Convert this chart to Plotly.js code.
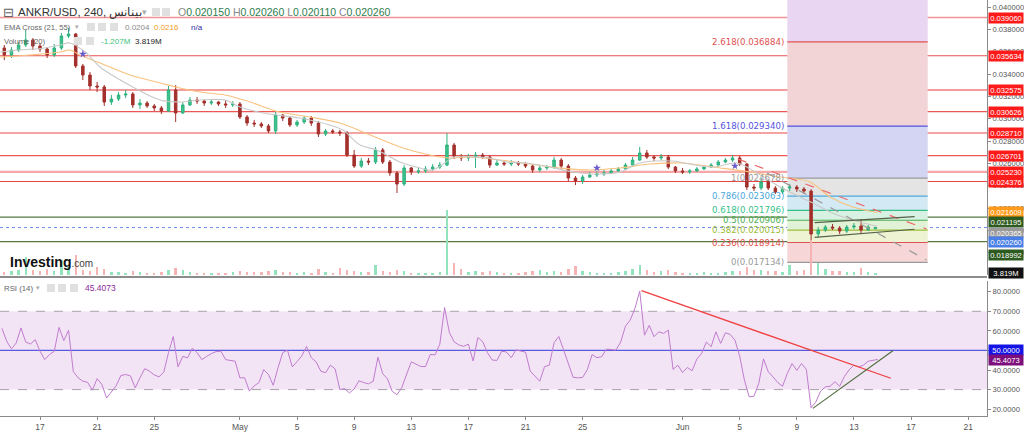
<!DOCTYPE html>
<html><head><meta charset="utf-8">
<script src="https://cdn.plot.ly/plotly-3.0.1.min.js"></script>
<style>html,body{margin:0;padding:0;background:#fff}#chart{width:1024px;height:433px}</style>
</head><body><div id="chart"></div><script>
// ---------- DATA (12h candles) ----------
const candleStartUTC = [2023, 3, 14, 12];
const candleStepHours = 12;
const open = [0.03633,0.03570,0.03615,0.03660,0.03705,0.03651,0.03624,0.03570,0.03633,0.03740,
 0.03758,0.03472,0.03391,0.03293,0.03284,0.03149,0.03176,0.03212,0.03221,0.03123,
 0.03140,0.03114,0.03096,0.03069,0.03257,0.03051,0.03123,0.03167,0.03158,0.03140,
 0.03149,0.03132,0.03123,0.03132,0.03015,0.02961,0.02953,0.02935,0.02890,0.03033,
 0.03006,0.02944,0.02970,0.03006,0.02961,0.02863,0.02890,0.02881,0.02872,0.02675,
 0.02576,0.02621,0.02612,0.02720,0.02612,0.02514,0.02415,0.02559,0.02523,0.02532,
 0.02550,0.02567,0.02585,0.02764,0.02666,0.02648,0.02657,0.02675,0.02657,0.02585,
 0.02603,0.02594,0.02603,0.02594,0.02576,0.02541,0.02559,0.02567,0.02630,0.02576,
 0.02469,0.02442,0.02478,0.02496,0.02505,0.02514,0.02532,0.02550,0.02585,0.02630,
 0.02693,0.02657,0.02648,0.02657,0.02567,0.02532,0.02523,0.02532,0.02550,0.02567,
 0.02585,0.02612,0.02630,0.02648,0.02594,0.02388,0.02379,0.02433,0.02379,0.02344,
 0.02379,0.02388,0.02370,0.02352,0.01968,0.02003,0.02030,0.02021,0.01994,0.02030,
 0.02039,0.02003,0.02015];
const high = [0.03660,0.03642,0.03687,0.03794,0.03722,0.03678,0.03642,0.03669,0.03767,0.03812,
 0.03767,0.03490,0.03418,0.03329,0.03302,0.03212,0.03239,0.03257,0.03239,0.03176,
 0.03158,0.03132,0.03114,0.03293,0.03302,0.03149,0.03194,0.03194,0.03176,0.03167,
 0.03158,0.03167,0.03158,0.03149,0.03033,0.02988,0.02970,0.02953,0.03060,0.03042,
 0.03024,0.02988,0.03024,0.03024,0.02979,0.02908,0.02908,0.02899,0.02890,0.02720,
 0.02648,0.02648,0.02747,0.02738,0.02630,0.02532,0.02585,0.02567,0.02559,0.02576,
 0.02594,0.02612,0.02872,0.02782,0.02684,0.02684,0.02702,0.02693,0.02675,0.02630,
 0.02621,0.02630,0.02621,0.02612,0.02585,0.02585,0.02585,0.02657,0.02648,0.02594,
 0.02487,0.02496,0.02523,0.02532,0.02541,0.02550,0.02567,0.02603,0.02657,0.02747,
 0.02720,0.02675,0.02684,0.02675,0.02576,0.02559,0.02550,0.02567,0.02585,0.02603,
 0.02630,0.02648,0.02675,0.02666,0.02603,0.02415,0.02469,0.02451,0.02397,0.02397,
 0.02415,0.02406,0.02388,0.02370,0.02030,0.02048,0.02057,0.02039,0.02048,0.02066,
 0.02102,0.02048,0.02026];
const low = [0.03525,0.03543,0.03597,0.03642,0.03615,0.03597,0.03543,0.03552,0.03615,0.03722,
 0.03454,0.03346,0.03257,0.03239,0.03114,0.03123,0.03158,0.03185,0.03096,0.03087,
 0.03096,0.03069,0.03042,0.03060,0.02970,0.03042,0.03114,0.03132,0.03114,0.03123,
 0.03114,0.03096,0.03105,0.02997,0.02935,0.02926,0.02917,0.02872,0.02863,0.02979,
 0.02926,0.02926,0.02953,0.02935,0.02836,0.02845,0.02863,0.02845,0.02657,0.02559,
 0.02559,0.02585,0.02594,0.02594,0.02487,0.02335,0.02397,0.02496,0.02505,0.02514,
 0.02532,0.02550,0.02576,0.02639,0.02621,0.02621,0.02559,0.02639,0.02559,0.02576,
 0.02576,0.02576,0.02576,0.02559,0.02514,0.02523,0.02541,0.02550,0.02550,0.02442,
 0.02406,0.02415,0.02469,0.02478,0.02487,0.02505,0.02523,0.02541,0.02576,0.02621,
 0.02639,0.02621,0.02630,0.02550,0.02514,0.02505,0.02505,0.02523,0.02541,0.02559,
 0.02576,0.02603,0.02612,0.02576,0.02361,0.02352,0.02361,0.02361,0.02326,0.02326,
 0.02352,0.02344,0.02326,0.01714,0.01941,0.01985,0.02003,0.01968,0.01976,0.02012,
 0.01976,0.01994,0.02011];
const close = [0.03570,0.03615,0.03660,0.03705,0.03651,0.03624,0.03570,0.03633,0.03740,0.03758,
 0.03472,0.03391,0.03293,0.03284,0.03149,0.03176,0.03212,0.03221,0.03123,0.03140,
 0.03114,0.03096,0.03069,0.03257,0.03051,0.03123,0.03167,0.03158,0.03140,0.03149,
 0.03132,0.03123,0.03132,0.03015,0.02961,0.02953,0.02935,0.02890,0.03033,0.03006,
 0.02944,0.02970,0.03006,0.02961,0.02863,0.02890,0.02881,0.02872,0.02675,0.02576,
 0.02621,0.02612,0.02720,0.02612,0.02514,0.02415,0.02559,0.02523,0.02532,0.02550,
 0.02567,0.02585,0.02764,0.02666,0.02648,0.02657,0.02675,0.02657,0.02585,0.02603,
 0.02594,0.02603,0.02594,0.02576,0.02541,0.02559,0.02567,0.02630,0.02576,0.02469,
 0.02442,0.02478,0.02496,0.02505,0.02514,0.02532,0.02550,0.02585,0.02630,0.02693,
 0.02657,0.02648,0.02657,0.02567,0.02532,0.02523,0.02532,0.02550,0.02567,0.02585,
 0.02612,0.02630,0.02648,0.02594,0.02388,0.02379,0.02433,0.02379,0.02344,0.02379,
 0.02388,0.02370,0.02352,0.01968,0.02003,0.02030,0.02021,0.01994,0.02030,0.02039,
 0.02003,0.02030,0.02026];
// volume in millions
const volume = [6,8,10,36,10,8,12,8,30,16, 40,10,8,16,12,6,6,4,8,6, 4,4,6,10,14,10,6,4,4,4,
 4,4,6,8,6,6,6,8,10,6, 6,4,6,4,12,6,4,14,10,8, 6,6,20,8,6,10,8,4,4,4,
 4,6,130,24,12,6,8,6,8,6, 4,4,4,6,8,10,6,8,6,12, 18,8,6,4,4,4,6,8,12,20,
 10,6,8,10,6,4,4,4,6,4, 4,6,8,8,16,10,10,8,8,6, 20,8,10,70,24,12,8,8,6,6, 14,6,3.819];
// EMA lines
const ema55Time = ['2023-04-14 05:00','2023-04-16 07:00','2023-04-18 10:00','2023-04-19 02:00','2023-04-19 19:00','2023-04-21 05:00','2023-04-23 07:00','2023-04-25 10:00','2023-04-26 19:00','2023-04-28 05:00','2023-04-29 23:00','2023-05-01 17:00','2023-05-03 19:00','2023-05-05 22:00','2023-05-08 00:00','2023-05-10 03:00','2023-05-12 05:00','2023-05-14 07:00','2023-05-15 17:00','2023-05-17 03:00','2023-05-19 05:00','2023-05-21 07:00','2023-05-23 10:00','2023-05-25 12:00','2023-05-27 15:00','2023-05-29 17:00','2023-05-31 20:00','2023-06-03 15:00','2023-06-05 17:00','2023-06-07 20:00','2023-06-09 22:00','2023-06-11 08:00','2023-06-12 22:00','2023-06-14 15:00'];
const ema55 = [0.03552,0.03570,0.03597,0.03615,0.03570,0.03499,0.03391,0.03320,0.03275,0.03239,0.03212,0.03149,0.03060,0.03015,0.02961,0.02854,0.02747,0.02675,0.02648,0.02657,0.02630,0.02594,0.02559,0.02541,0.02559,0.02594,0.02603,0.02559,0.02523,0.02478,0.02433,0.02299,0.02209,0.021609];
const ema21Time = ['2023-04-14 05:00','2023-04-15 14:00','2023-04-17 08:00','2023-04-18 10:00','2023-04-19 02:00','2023-04-20 04:00','2023-04-21 05:00','2023-04-23 12:00','2023-04-25 10:00','2023-04-26 19:00','2023-04-28 05:00','2023-04-29 23:00','2023-05-01 00:00','2023-05-02 15:00','2023-05-05 05:00','2023-05-07 07:00','2023-05-08 05:00','2023-05-09 10:00','2023-05-10 14:00','2023-05-12 05:00','2023-05-13 15:00','2023-05-14 12:00','2023-05-16 01:00','2023-05-17 08:00','2023-05-18 12:00','2023-05-19 17:00','2023-05-21 02:00','2023-05-22 17:00','2023-05-24 08:00','2023-05-26 00:00','2023-05-27 15:00','2023-05-29 00:00','2023-05-31 08:00','2023-06-01 12:00','2023-06-03 03:00','2023-06-04 19:00','2023-06-06 05:00','2023-06-07 20:00','2023-06-10 03:00','2023-06-11 08:00','2023-06-12 22:00','2023-06-14 15:00'];
const ema21 = [0.03597,0.03615,0.03633,0.03660,0.03678,0.03597,0.03463,0.03284,0.03167,0.03149,0.03167,0.03167,0.03105,0.03051,0.03006,0.02944,0.02899,0.02764,0.02720,0.02612,0.02559,0.02541,0.02657,0.02657,0.02648,0.02612,0.02603,0.02567,0.02523,0.02505,0.02523,0.02603,0.02621,0.02594,0.02567,0.02603,0.02514,0.02388,0.02245,0.02165,0.02093,0.020365];
const crossTime = ['2023-04-20 00:00','2023-05-26 00:00','2023-06-04 16:00'];
const crossPrice = [0.03579,0.02559,0.02577];
// RSI (14), 8-hourly samples
const rsiStartUTC = [2023, 3, 14, 8];
const rsiStepHours = 8;
const rsi = [61.3,54.7,50.8,53.8,61.5,54.3,53.3,55.5,49.6,45.3,
 47.9,49.6,61.8,55.0,60.3,39.2,36.0,34.3,33.7,29.7,
 35.6,32.6,25.7,28.8,32.0,37.2,37.7,37.0,30.9,36.0,
 40.7,39.4,37.5,36.5,38.9,48.9,57.1,41.6,47.0,46.2,
 51.1,48.9,45.3,46.9,48.4,49.4,49.6,45.3,44.8,44.5,
 36.0,36.0,29.2,31.9,33.6,40.2,37.7,32.2,41.1,48.9,
 50.1,41.6,44.3,47.2,52.0,46.3,44.2,39.4,38.6,42.5,
 40.6,30.0,30.5,28.3,30.3,34.5,33.6,32.9,34.3,46.5,
 38.1,35.5,29.1,27.4,31.0,37.7,44.2,43.0,41.8,41.8,
 48.0,47.7,53.2,71.9,59.2,54.4,52.8,52.1,53.2,44.6,
 56.6,54.5,48.9,45.1,44.9,49.6,49.2,46.3,50.3,49.7,
 49.1,39.4,36.9,34.3,41.7,42.5,53.9,57.1,50.3,43.2,
 36.3,36.0,36.2,40.3,47.9,46.3,46.8,50.7,50.5,50.2,
 54.3,62.4,65.5,71.5,80.3,57.8,62.8,57.0,59.5,58.7,
 60.4,40.3,42.5,38.7,41.3,39.6,45.6,48.5,54.3,51.9,
 59.5,53.6,59.0,58.2,55.3,47.1,34.8,26.3,26.6,33.1,
 45.7,39.1,36.5,33.6,31.7,38.2,43.3,39.8,43.3,40.3,
 20.7,23.7,29.2,31.4,31.7,34.0,31.7,36.7,40.1,42.5,
 41.6,42.5,44.5,45.0,45.4073];
// levels
const redLevels = [0.039060,0.035634,0.032575,0.030626,0.028710,0.026701,0.025230,0.024376];
const redLevelColors = ['#f39494','#ee5050','#f27a7a','#ee5555','#f6a3a3','#ee5555','#f6a8a8','#e84444'];
const redLevelWidths = [1.5,1.2,1.5,1.2,2,1.2,2.2,1.2];
const greenLevels = [0.021195,0.018992];
const lastPrice = 0.020260;
const fibRatios = [0,0.236,0.382,0.5,0.618,0.786,1,1.618,2.618];
const fibPrices = [0.017134,0.018914,0.020015,0.020906,0.021796,0.023063,0.024678,0.029340,0.036884];
const fibLineColors = ['#9a9a9a','#e05050','#9cbd35','#4caf50','#35bf8a','#4aa8dc','#9a9a9a','#5252dd','#e05050'];
const fibBandColors = ['#f6d6d6','#eef4d3','#e2f2d6','#d7f1e2','#d3e9f3','#e4e4e4','#d4d4f3','#f3d4d6','#e8d6f3'];
const fibStart = '2023-06-08 08:00', fibEnd = '2023-06-18 04:00';
const redTrendT = ['2023-06-04 21:00','2023-06-18 02:00'], redTrendP = [0.02639,0.02013];
const grayTrendT = ['2023-06-06 22:00','2023-06-18 02:00'], grayTrendP = [0.02514,0.01735];
const chanT = ['2023-06-10 06:00','2023-06-17 06:00'];
const chanUpperP = [0.02069,0.02123], chanLowerP = [0.01938,0.02010];
const rsiRedT = ['2023-05-29 03:00','2023-06-15 14:00'], rsiRedV = [80.5,35.8];
const rsiGreenT = ['2023-06-10 03:00','2023-06-15 18:00'], rsiGreenV = [20.4,50.0];
const xTickVals = ['2023-04-17','2023-04-21','2023-04-25','2023-05-01','2023-05-05','2023-05-09','2023-05-13','2023-05-17','2023-05-21','2023-05-25','2023-06-01','2023-06-05','2023-06-09','2023-06-13','2023-06-17','2023-06-21'];
const xTickText = ['17','21','25','May','5','9','13','17','21','25','Jun','5','9','13','17','21'];
const rightLabels = [
  {v:0.039060,bg:'#ff1a1a',s:0},{v:0.035634,bg:'#ff1a1a',s:0},{v:0.032575,bg:'#ff1a1a',s:0},
  {v:0.030626,bg:'#ff1a1a',s:0},{v:0.028710,bg:'#ff1a1a',s:0},{v:0.026701,bg:'#ff1a1a',s:0},
  {v:0.025230,bg:'#ff1a1a',s:0},{v:0.024376,bg:'#ff1a1a',s:0},{v:0.021609,bg:'#ff9a1a',s:0},
  {v:0.021195,bg:'#2d5a1e',s:-5},{v:0.020365,bg:'#9a9a9a',s:-7},{v:0.020260,bg:'#4a7fe6',s:-15},
  {v:0.018992,bg:'#2d5a1e',s:-13}];

// ---------- BUILD ----------
const HOUR = 3600e3;
const t0 = Date.UTC(...candleStartUTC);
const times = open.map((_, i) => t0 + i * candleStepHours * HOUR);
const r0 = Date.UTC(...rsiStartUTC);
const rsiTimes = rsi.map((_, j) => r0 + j * rsiStepHours * HOUR);
const volColors = close.map((c, i) => c >= open[i] ? '#92e2bd' : '#f6b3b3');

const SANS = '"Liberation Sans", Arial, sans-serif';
const PW = 987, PH = 416; // plot area in px
const mainDomain = [1 - 275 / PH, 1];
const rsiDomain = [0, (PH - 281) / PH];
const mainRange = [0.016006, 0.040627];
const rsiRange = [16.52, 85.46];
const xRange = ['2023-04-14 04:46', '2023-06-22 07:40'];

const traces = [
  {type:'bar', x:times, y:volume, yaxis:'y3', xaxis:'x', marker:{color:volColors, line:{width:0}},
   width: 4 * HOUR, hoverinfo:'skip', showlegend:false},
  {type:'scatter', mode:'lines', x:ema55Time, y:ema55, line:{color:'#f8c27f', width:1.1, shape:'spline'}, hoverinfo:'skip', showlegend:false},
  {type:'scatter', mode:'lines', x:ema21Time, y:ema21, line:{color:'#c9c9c9', width:1.1, shape:'spline'}, hoverinfo:'skip', showlegend:false},
  {type:'candlestick', x:times, open:open, high:high, low:low, close:close, xaxis:'x', yaxis:'y',
   increasing:{line:{color:'#2fb07e', width:1}, fillcolor:'#3cc48c'},
   decreasing:{line:{color:'#a3302c', width:1}, fillcolor:'#a3302c'},
   whiskerwidth:0, hoverinfo:'skip', showlegend:false},
  {type:'scatter', mode:'markers', x:crossTime, y:crossPrice, marker:{symbol:'star', size:6, color:'#6a5acd'}, hoverinfo:'skip', showlegend:false},
  {type:'scatter', mode:'lines', x:rsiTimes, y:rsi, xaxis:'x', yaxis:'y2', line:{color:'#c07ccf', width:1}, hoverinfo:'skip', showlegend:false}
];

const shapes = [];
for (let k = 0; k < fibPrices.length; k++) {
  const top = k + 1 < fibPrices.length ? fibPrices[k + 1] : mainRange[1];
  shapes.push({type:'rect', xref:'x', yref:'y', x0:fibStart, x1:fibEnd, y0:fibPrices[k], y1:top,
    fillcolor:fibBandColors[k], line:{width:0}, layer:'below'});
}
for (let k = 0; k < fibPrices.length; k++) {
  shapes.push({type:'line', xref:'x', yref:'y', x0:fibStart, x1:fibEnd, y0:fibPrices[k], y1:fibPrices[k],
    line:{color:fibLineColors[k], width:1.2}, layer:'below'});
}
redLevels.forEach((v, k) => shapes.push({type:'line', xref:'paper', yref:'y', x0:0, x1:1, y0:v, y1:v,
  line:{color:redLevelColors[k], width:redLevelWidths[k]}, layer:'below'}));
greenLevels.forEach(v => shapes.push({type:'line', xref:'paper', yref:'y', x0:0, x1:1, y0:v, y1:v,
  line:{color:'#557a45', width:1.2}, layer:'below'}));
shapes.push({type:'line', xref:'paper', yref:'y', x0:0, x1:1, y0:lastPrice, y1:lastPrice,
  line:{color:'#6f8fe8', width:1, dash:'dot'}, layer:'below'});
shapes.push({type:'line', xref:'x', yref:'y', x0:redTrendT[0], x1:redTrendT[1], y0:redTrendP[0], y1:redTrendP[1], line:{color:'#ee6a6a', width:1.2, dash:'dash'}});
shapes.push({type:'line', xref:'x', yref:'y', x0:grayTrendT[0], x1:grayTrendT[1], y0:grayTrendP[0], y1:grayTrendP[1], line:{color:'#9a9a9a', width:1.2, dash:'dash'}});
shapes.push({type:'line', xref:'x', yref:'y', x0:chanT[0], x1:chanT[1], y0:chanUpperP[0], y1:chanUpperP[1], line:{color:'#55604a', width:1.2}});
shapes.push({type:'line', xref:'x', yref:'y', x0:chanT[0], x1:chanT[1], y0:chanLowerP[0], y1:chanLowerP[1], line:{color:'#55604a', width:1.2}});
shapes.push({type:'rect', xref:'paper', yref:'y2', x0:0, x1:1, y0:30, y1:70, fillcolor:'#f2e4f4', line:{width:0}, layer:'below'});
[30, 70].forEach(v => shapes.push({type:'line', xref:'paper', yref:'y2', x0:0, x1:1, y0:v, y1:v, line:{color:'#a8a0a8', width:1, dash:'dash'}, layer:'below'}));
shapes.push({type:'line', xref:'paper', yref:'y2', x0:0, x1:1, y0:50, y1:50, line:{color:'#5a5ae0', width:1.3}, layer:'below'});
shapes.push({type:'line', xref:'x', yref:'y2', x0:rsiRedT[0], x1:rsiRedT[1], y0:rsiRedV[0], y1:rsiRedV[1], line:{color:'#f04040', width:1.3}});
shapes.push({type:'line', xref:'x', yref:'y2', x0:rsiGreenT[0], x1:rsiGreenT[1], y0:rsiGreenV[0], y1:rsiGreenV[1], line:{color:'#4d6b3c', width:1.1}});
shapes.push({type:'line', xref:'paper', yref:'paper', x0:0, x1:1, y0:1 - 277 / PH, y1:1 - 277 / PH, line:{color:'#8c8c8c', width:2}});
const iconBoxes = [[152,12],[162,12],[87,27],[98,27],[110,27],[74,41],[86,41],[47,288],[58,288],[70,288]];
iconBoxes.forEach(([px, py]) => shapes.push({type:'rect', xref:'paper', yref:'paper',
  x0:px / PW, x1:(px + 8) / PW, y0:1 - (py + 4) / PH, y1:1 - (py - 4) / PH, fillcolor:'#e0e0e0', line:{width:0}}));

const annotations = [];
function hdr(text, px, py, size, color, family) {
  annotations.push({xref:'paper', yref:'paper', x:0, y:1, xanchor:'left', yanchor:'middle', xshift:px, yshift:-py,
    text:text, showarrow:false, font:{size:size, color:color, family:family || SANS}});
}
hdr('⊟', 1, 12, 13, '#666', 'DejaVu Sans');
hdr('ANKR/USD, 240, بينانس', 16, 12, 11.5, '#333');
hdr('▾', 140, 12, 9, '#aaa', 'DejaVu Sans');
hdr('<span style="color:#888">O</span>0.020150 <span style="color:#888">H</span>0.020260 <span style="color:#888">L</span>0.020110 <span style="color:#888">C</span>0.020260', 176, 12, 10.5, '#2e7d4f');
hdr('EMA Cross (21, 55)', 2, 27, 7.6, '#666');
hdr('▾', 73, 27, 7, '#aaa', 'DejaVu Sans');
hdr('0.0204', 123, 27, 8, '#8a8a8a');
hdr('0.0216', 152, 27, 8, '#f29a22');
hdr('n/a', 189, 27, 8, '#2c2c9c');
hdr('Volume (20)', 2, 41, 7.6, '#666');
hdr('-1.207M', 99, 41, 8, '#3cbf7a');
hdr('3.819M', 133, 41, 8, '#222');
hdr('RSI (14)', 2, 288, 7.8, '#666');
hdr('▾', 34, 288, 7, '#aaa', 'DejaVu Sans');
hdr('45.4073', 83, 288, 8.5, '#8a2a9a');
hdr('<b>Investing</b><span style="font-size:10px;color:#444">.com</span>', 8, 262, 14, '#111', SANS);
fibRatios.forEach((r, k) => annotations.push({xref:'x', yref:'y', x:fibStart, y:fibPrices[k], xanchor:'right', yanchor:'middle',
  xshift:-1, text: r + '(' + fibPrices[k].toFixed(6) + ')', showarrow:false,
  font:{size:8.6, color:fibLineColors[k], family:'DejaVu Sans, Verdana, sans-serif'}}));
const LBL = {size:7.6, color:'#fff', family:SANS};
const LW = 34, LH = 10;
rightLabels.forEach(l => annotations.push({xref:'paper', yref:'y', x:1, y:l.v, xanchor:'left', yanchor:'middle', xshift:1, yshift:l.s,
  text:l.v.toFixed(6), showarrow:false, bgcolor:l.bg, borderpad:0, width:LW, height:LH, font:LBL}));
annotations.push({xref:'paper', yref:'y3', x:1, y:volume[volume.length - 1], xanchor:'left', yanchor:'middle', xshift:1,
  text:volume[volume.length - 1].toFixed(3) + 'M', showarrow:false, bgcolor:'#111', borderpad:0, width:LW, height:LH, font:LBL});
annotations.push({xref:'paper', yref:'y2', x:1, y:50, xanchor:'left', yanchor:'middle', xshift:1,
  text:(50).toFixed(4), showarrow:false, bgcolor:'#1414e6', borderpad:0, width:LW, height:LH, font:LBL});
annotations.push({xref:'paper', yref:'y2', x:1, y:rsi[rsi.length - 1], xanchor:'left', yanchor:'middle', xshift:1, yshift:-1,
  text:rsi[rsi.length - 1].toFixed(4), showarrow:false, bgcolor:'#7d0f7d', borderpad:0, width:LW, height:LH, font:LBL});

const axisCommon = {showgrid:false, zeroline:false, showline:true, linecolor:'#8a8a8a', linewidth:1,
  ticks:'outside', ticklen:3, tickcolor:'#8a8a8a', tickfont:{size:7.6, color:'#555', family:SANS}};

const layout = {
  width:1024, height:433, autosize:false,
  margin:{l:0, r:37, t:0, b:17, pad:0},
  paper_bgcolor:'#fff', plot_bgcolor:'#fff',
  showlegend:false, boxgap:0.5, bargap:0,
  font:{family:SANS},
  xaxis: Object.assign({}, axisCommon, {type:'date', range:xRange, anchor:'y2', tickvals:xTickVals, ticktext:xTickText,
    rangeslider:{visible:false}, ticklen:3, tickfont:{size:8.5, color:'#555', family:SANS}}),
  yaxis: Object.assign({}, axisCommon, {domain:mainDomain, range:mainRange, side:'right', anchor:'x',
    tick0:0, dtick:0.002, tickformat:'.6f'}),
  yaxis2: Object.assign({}, axisCommon, {domain:rsiDomain, range:rsiRange, side:'right', anchor:'x',
    tickvals:[20,30,40,50,60,70,80], ticktext:[20,30,40,50,60,70,80].map(v => v.toFixed(4))}),
  yaxis3: {overlaying:'y', range:[0, 550], visible:false, showgrid:false, zeroline:false},
  shapes:shapes, annotations:annotations
};

Plotly.newPlot('chart', traces, layout, {displayModeBar:false, staticPlot:true});
</script></body></html>
